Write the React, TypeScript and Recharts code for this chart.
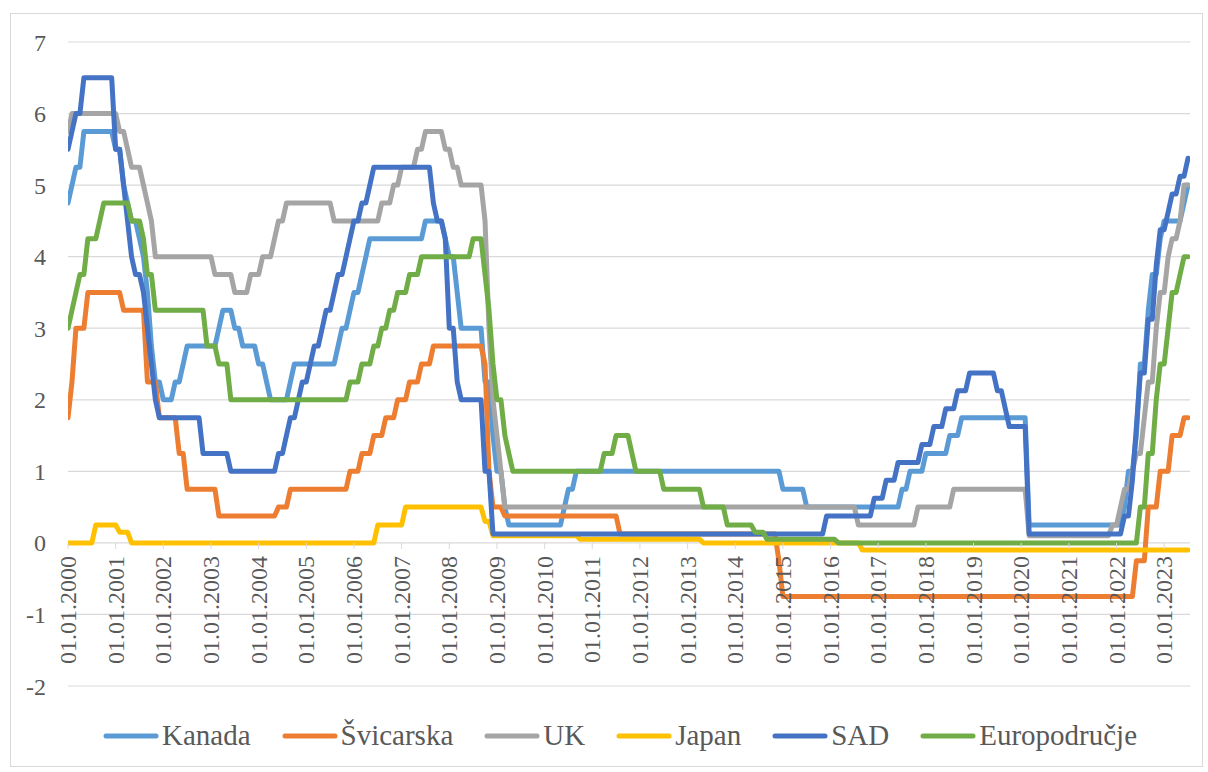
import React from 'react';
import { LineChart, Line, XAxis, YAxis, CartesianGrid, Legend } from 'recharts';

type Pt = [string, number];

// Policy rates, monthly vertices (YYYY-MM, %)
const kanada: Pt[] = [
  ['2000-01', 4.75], ['2000-02', 5.0], ['2000-03', 5.25], ['2000-04', 5.25], ['2000-05', 5.75], ['2000-12', 5.75],
  ['2001-01', 5.5], ['2001-02', 5.5], ['2001-03', 5.0], ['2001-04', 4.75], ['2001-05', 4.5], ['2001-06', 4.5],
  ['2001-07', 4.25], ['2001-08', 4.0], ['2001-09', 3.5], ['2001-10', 2.75], ['2001-11', 2.25], ['2001-12', 2.25],
  ['2002-01', 2.0], ['2002-03', 2.0], ['2002-04', 2.25], ['2002-05', 2.25], ['2002-06', 2.5], ['2002-07', 2.75],
  ['2003-02', 2.75], ['2003-03', 3.0], ['2003-04', 3.25], ['2003-06', 3.25], ['2003-07', 3.0], ['2003-08', 3.0],
  ['2003-09', 2.75], ['2003-12', 2.75], ['2004-01', 2.5], ['2004-02', 2.5], ['2004-03', 2.25], ['2004-04', 2.0],
  ['2004-08', 2.0], ['2004-09', 2.25], ['2004-10', 2.5], ['2005-08', 2.5], ['2005-09', 2.75], ['2005-10', 3.0],
  ['2005-11', 3.0], ['2005-12', 3.25], ['2006-01', 3.5], ['2006-02', 3.5], ['2006-03', 3.75], ['2006-04', 4.0],
  ['2006-05', 4.25], ['2007-06', 4.25], ['2007-07', 4.5], ['2007-11', 4.5], ['2007-12', 4.25], ['2008-01', 4.0],
  ['2008-02', 4.0], ['2008-03', 3.5], ['2008-04', 3.0], ['2008-09', 3.0], ['2008-10', 2.25], ['2008-11', 2.25],
  ['2008-12', 1.5], ['2009-01', 1.0], ['2009-02', 1.0], ['2009-03', 0.5], ['2009-04', 0.25], ['2010-05', 0.25],
  ['2010-06', 0.5], ['2010-07', 0.75], ['2010-08', 0.75], ['2010-09', 1.0], ['2014-12', 1.0], ['2015-01', 0.75],
  ['2015-06', 0.75], ['2015-07', 0.5], ['2017-06', 0.5], ['2017-07', 0.75], ['2017-08', 0.75], ['2017-09', 1.0],
  ['2017-12', 1.0], ['2018-01', 1.25], ['2018-06', 1.25], ['2018-07', 1.5], ['2018-09', 1.5], ['2018-10', 1.75],
  ['2020-02', 1.75], ['2020-03', 0.25], ['2022-02', 0.25], ['2022-03', 0.5], ['2022-04', 1.0], ['2022-05', 1.0],
  ['2022-06', 1.5], ['2022-07', 2.5], ['2022-08', 2.5], ['2022-09', 3.25], ['2022-10', 3.75], ['2022-11', 3.75],
  ['2022-12', 4.25], ['2023-01', 4.5], ['2023-05', 4.5], ['2023-06', 4.75], ['2023-07', 5.0],
];

const svicarska: Pt[] = [
  ['2000-01', 1.75], ['2000-02', 2.25], ['2000-03', 3.0], ['2000-05', 3.0], ['2000-06', 3.5], ['2001-02', 3.5],
  ['2001-03', 3.25], ['2001-08', 3.25], ['2001-09', 2.25], ['2001-11', 2.25], ['2001-12', 1.75], ['2002-04', 1.75],
  ['2002-05', 1.25], ['2002-06', 1.25], ['2002-07', 0.75], ['2003-02', 0.75], ['2003-03', 0.375], ['2004-05', 0.375],
  ['2004-06', 0.5], ['2004-08', 0.5], ['2004-09', 0.75], ['2005-11', 0.75], ['2005-12', 1.0], ['2006-02', 1.0],
  ['2006-03', 1.25], ['2006-05', 1.25], ['2006-06', 1.5], ['2006-08', 1.5], ['2006-09', 1.75], ['2006-11', 1.75],
  ['2006-12', 2.0], ['2007-02', 2.0], ['2007-03', 2.25], ['2007-05', 2.25], ['2007-06', 2.5], ['2007-08', 2.5],
  ['2007-09', 2.75], ['2008-09', 2.75], ['2008-10', 2.5], ['2008-11', 1.0], ['2008-12', 0.5], ['2009-02', 0.5],
  ['2009-03', 0.375], ['2011-07', 0.375], ['2011-08', 0.125], ['2014-11', 0.125], ['2014-12', -0.25],
  ['2015-01', -0.75], ['2022-05', -0.75], ['2022-06', -0.25], ['2022-08', -0.25], ['2022-09', 0.5],
  ['2022-11', 0.5], ['2022-12', 1.0], ['2023-02', 1.0], ['2023-03', 1.5], ['2023-05', 1.5], ['2023-06', 1.75],
  ['2023-07', 1.75],
];

const uk: Pt[] = [
  ['2000-01', 5.75], ['2000-02', 6.0], ['2001-01', 6.0], ['2001-02', 5.75], ['2001-03', 5.75], ['2001-04', 5.5],
  ['2001-05', 5.25], ['2001-07', 5.25], ['2001-08', 5.0], ['2001-09', 4.75], ['2001-10', 4.5], ['2001-11', 4.0],
  ['2003-01', 4.0], ['2003-02', 3.75], ['2003-06', 3.75], ['2003-07', 3.5], ['2003-10', 3.5], ['2003-11', 3.75],
  ['2004-01', 3.75], ['2004-02', 4.0], ['2004-04', 4.0], ['2004-05', 4.25], ['2004-06', 4.5], ['2004-07', 4.5],
  ['2004-08', 4.75], ['2005-07', 4.75], ['2005-08', 4.5], ['2006-07', 4.5], ['2006-08', 4.75], ['2006-10', 4.75],
  ['2006-11', 5.0], ['2006-12', 5.0], ['2007-01', 5.25], ['2007-04', 5.25], ['2007-05', 5.5], ['2007-06', 5.5],
  ['2007-07', 5.75], ['2007-11', 5.75], ['2007-12', 5.5], ['2008-01', 5.5], ['2008-02', 5.25], ['2008-03', 5.25],
  ['2008-04', 5.0], ['2008-09', 5.0], ['2008-10', 4.5], ['2008-11', 3.0], ['2008-12', 2.0], ['2009-01', 1.5],
  ['2009-02', 1.0], ['2009-03', 0.5], ['2016-07', 0.5], ['2016-08', 0.25], ['2017-10', 0.25], ['2017-11', 0.5],
  ['2018-07', 0.5], ['2018-08', 0.75], ['2020-02', 0.75], ['2020-03', 0.1], ['2021-11', 0.1], ['2021-12', 0.25],
  ['2022-01', 0.25], ['2022-02', 0.5], ['2022-03', 0.75], ['2022-04', 0.75], ['2022-05', 1.0], ['2022-06', 1.25],
  ['2022-07', 1.25], ['2022-08', 1.75], ['2022-09', 2.25], ['2022-10', 2.25], ['2022-11', 3.0], ['2022-12', 3.5],
  ['2023-01', 3.5], ['2023-02', 4.0], ['2023-03', 4.25], ['2023-04', 4.25], ['2023-05', 4.5], ['2023-06', 5.0],
  ['2023-07', 5.0],
];

const japan: Pt[] = [
  ['2000-01', 0], ['2000-07', 0], ['2000-08', 0.25], ['2001-01', 0.25], ['2001-02', 0.15], ['2001-04', 0.15],
  ['2001-05', 0], ['2006-06', 0], ['2006-07', 0.25], ['2007-01', 0.25], ['2007-02', 0.5], ['2008-09', 0.5],
  ['2008-10', 0.3], ['2008-11', 0.3], ['2008-12', 0.1], ['2010-09', 0.1], ['2010-10', 0.05], ['2013-04', 0.05],
  ['2013-05', 0], ['2016-08', 0], ['2016-09', -0.1], ['2023-07', -0.1],
];

const sad: Pt[] = [
  ['2000-01', 5.5], ['2000-02', 5.75], ['2000-03', 6.0], ['2000-04', 6.0], ['2000-05', 6.5], ['2000-12', 6.5],
  ['2001-01', 5.5], ['2001-02', 5.5], ['2001-03', 5.0], ['2001-04', 4.5], ['2001-05', 4.0], ['2001-06', 3.75],
  ['2001-07', 3.75], ['2001-08', 3.5], ['2001-09', 3.0], ['2001-10', 2.5], ['2001-11', 2.0], ['2001-12', 1.75],
  ['2002-10', 1.75], ['2002-11', 1.25], ['2003-05', 1.25], ['2003-06', 1.0], ['2004-05', 1.0], ['2004-06', 1.25],
  ['2004-07', 1.25], ['2004-08', 1.5], ['2004-09', 1.75], ['2004-10', 1.75], ['2004-11', 2.0], ['2004-12', 2.25],
  ['2005-01', 2.25], ['2005-02', 2.5], ['2005-03', 2.75], ['2005-04', 2.75], ['2005-05', 3.0], ['2005-06', 3.25],
  ['2005-07', 3.25], ['2005-08', 3.5], ['2005-09', 3.75], ['2005-10', 3.75], ['2005-11', 4.0], ['2005-12', 4.25],
  ['2006-01', 4.5], ['2006-02', 4.5], ['2006-03', 4.75], ['2006-04', 4.75], ['2006-05', 5.0], ['2006-06', 5.25],
  ['2007-08', 5.25], ['2007-09', 4.75], ['2007-10', 4.5], ['2007-11', 4.5], ['2007-12', 4.25], ['2008-01', 3.0],
  ['2008-02', 3.0], ['2008-03', 2.25], ['2008-04', 2.0], ['2008-09', 2.0], ['2008-10', 1.0], ['2008-11', 1.0],
  ['2008-12', 0.125], ['2015-11', 0.125], ['2015-12', 0.375], ['2016-11', 0.375], ['2016-12', 0.625],
  ['2017-02', 0.625], ['2017-03', 0.875], ['2017-05', 0.875], ['2017-06', 1.125], ['2017-11', 1.125],
  ['2017-12', 1.375], ['2018-02', 1.375], ['2018-03', 1.625], ['2018-05', 1.625], ['2018-06', 1.875],
  ['2018-08', 1.875], ['2018-09', 2.125], ['2018-11', 2.125], ['2018-12', 2.375], ['2019-06', 2.375],
  ['2019-07', 2.125], ['2019-08', 2.125], ['2019-09', 1.875], ['2019-10', 1.625], ['2020-02', 1.625],
  ['2020-03', 0.125], ['2022-02', 0.125], ['2022-03', 0.375], ['2022-04', 0.375], ['2022-05', 0.875],
  ['2022-06', 1.625], ['2022-07', 2.375], ['2022-08', 2.375], ['2022-09', 3.125], ['2022-10', 3.125],
  ['2022-11', 3.875], ['2022-12', 4.375], ['2023-01', 4.375], ['2023-02', 4.625], ['2023-03', 4.875],
  ['2023-04', 4.875], ['2023-05', 5.125], ['2023-06', 5.125], ['2023-07', 5.375],
];

const europodrucje: Pt[] = [
  ['2000-01', 3.0], ['2000-02', 3.25], ['2000-03', 3.5], ['2000-04', 3.75], ['2000-05', 3.75], ['2000-06', 4.25],
  ['2000-08', 4.25], ['2000-09', 4.5], ['2000-10', 4.75], ['2001-04', 4.75], ['2001-05', 4.5], ['2001-07', 4.5],
  ['2001-08', 4.25], ['2001-09', 3.75], ['2001-10', 3.75], ['2001-11', 3.25], ['2002-11', 3.25], ['2002-12', 2.75],
  ['2003-02', 2.75], ['2003-03', 2.5], ['2003-05', 2.5], ['2003-06', 2.0], ['2005-11', 2.0], ['2005-12', 2.25],
  ['2006-02', 2.25], ['2006-03', 2.5], ['2006-05', 2.5], ['2006-06', 2.75], ['2006-07', 2.75], ['2006-08', 3.0],
  ['2006-09', 3.0], ['2006-10', 3.25], ['2006-11', 3.25], ['2006-12', 3.5], ['2007-02', 3.5], ['2007-03', 3.75],
  ['2007-05', 3.75], ['2007-06', 4.0], ['2008-06', 4.0], ['2008-07', 4.25], ['2008-09', 4.25], ['2008-10', 3.75],
  ['2008-11', 3.25], ['2008-12', 2.5], ['2009-01', 2.0], ['2009-02', 2.0], ['2009-03', 1.5], ['2009-04', 1.25],
  ['2009-05', 1.0], ['2011-03', 1.0], ['2011-04', 1.25], ['2011-06', 1.25], ['2011-07', 1.5], ['2011-10', 1.5],
  ['2011-11', 1.25], ['2011-12', 1.0], ['2012-06', 1.0], ['2012-07', 0.75], ['2013-04', 0.75], ['2013-05', 0.5],
  ['2013-10', 0.5], ['2013-11', 0.25], ['2014-05', 0.25], ['2014-06', 0.15], ['2014-08', 0.15], ['2014-09', 0.05],
  ['2016-02', 0.05], ['2016-03', 0], ['2022-06', 0], ['2022-07', 0.5], ['2022-08', 0.5], ['2022-09', 1.25],
  ['2022-10', 1.25], ['2022-11', 2.0], ['2022-12', 2.5], ['2023-01', 2.5], ['2023-02', 3.0], ['2023-03', 3.5],
  ['2023-04', 3.5], ['2023-05', 3.75], ['2023-06', 4.0], ['2023-07', 4.0],
];

const seriesNames = ['Kanada', 'Švicarska', 'UK', 'Japan', 'SAD', 'Europodručje'];
const seriesColors = ['#5B9BD5', '#ED7D31', '#A5A5A5', '#FFC000', '#4472C4', '#70AD47'];
const seriesPoints = [kanada, svicarska, uk, japan, sad, europodrucje];

const yTicks = [-2, -1, 0, 1, 2, 3, 4, 5, 6, 7];
const tickYears = [2000, 2001, 2002, 2003, 2004, 2005, 2006, 2007, 2008, 2009, 2010, 2011,
  2012, 2013, 2014, 2015, 2016, 2017, 2018, 2019, 2020, 2021, 2022, 2023];

const START_YEAR = 2000;
const Y_MIN = -2;
const Y_MAX = 7;
const X_MAX = 282.5;

const W = 1208;
const H = 772;
const MARGIN = { top: 42, right: 18, left: 10, bottom: 56 };
const X_AXIS_H = 30;
const PLOT_TOP = MARGIN.top;
const PLOT_H = H - MARGIN.top - MARGIN.bottom - X_AXIS_H;

const FONT = '"Liberation Serif", "Times New Roman", serif';
const TEXT = '#595959';
const GRID = '#d9d9d9';

const toIndex = (s: string) => {
  const [y, m] = s.split('-').map(Number);
  return (y - START_YEAR) * 12 + (m - 1);
};

const series = seriesNames.map((name, i) => ({
  name,
  color: seriesColors[i],
  data: seriesPoints[i].map(([d, v]) => ({ x: toIndex(d), y: v })),
}));

const XTick = (props: any) => {
  const { x, payload } = props;
  const zeroY = PLOT_TOP + (PLOT_H * (Y_MAX - 0)) / (Y_MAX - Y_MIN);
  const year = START_YEAR + Math.round(payload.value / 12);
  return (
    <g>
      <line x1={x} x2={x} y1={zeroY} y2={zeroY + 6} stroke={GRID} strokeWidth={1} />
      <text
        transform={`translate(${x + 8},${zeroY + 13}) rotate(-90)`}
        textAnchor="end"
        fontFamily={FONT}
        fontSize={24}
        fill={TEXT}
      >
        {`01.01.${year}`}
      </text>
    </g>
  );
};

const LegendContent = () => (
  <div
    style={{
      display: 'flex',
      justifyContent: 'center',
      alignItems: 'center',
      paddingLeft: 32,
      fontFamily: FONT,
      fontSize: 29,
      color: TEXT,
      whiteSpace: 'nowrap',
    }}
  >
    {series.map((s, i) => (
      <div key={s.name} style={{ display: 'flex', alignItems: 'center', marginLeft: i === 0 ? 0 : 31 }}>
        <svg width={56} height={10} style={{ marginRight: 3 }}>
          <line x1={3} y1={5} x2={53} y2={5} stroke={s.color} strokeWidth={5} strokeLinecap="round" />
        </svg>
        <span>{s.name}</span>
      </div>
    ))}
  </div>
);

export default function App() {
  return (
    <div style={{ position: 'absolute', left: 0, top: 0, width: W, height: H, background: '#fff' }}>
      <div
        style={{
          position: 'absolute',
          left: 10,
          top: 13,
          width: 1193,
          height: 754,
          border: `1.5px solid ${GRID}`,
          boxSizing: 'border-box',
        }}
      />
      <div style={{ position: 'absolute', left: 0, top: 0 }}>
        <LineChart width={W} height={H} margin={MARGIN}>
          <CartesianGrid horizontal vertical={false} stroke={GRID} strokeWidth={1.2} />
          <XAxis
            dataKey="x"
            type="number"
            domain={[0, X_MAX]}
            ticks={tickYears.map((y) => (y - START_YEAR) * 12)}
            allowDataOverflow
            axisLine={false}
            tickLine={false}
            height={X_AXIS_H}
            tick={<XTick />}
            interval={0}
          />
          <YAxis
            type="number"
            domain={[Y_MIN, Y_MAX]}
            ticks={yTicks}
            axisLine={false}
            tickLine={false}
            width={58}
            tickMargin={16}
            tick={{ fill: TEXT, fontSize: 24, fontFamily: FONT }}
            interval={0}
          />
          <Legend
            layout="horizontal"
            verticalAlign="middle"
            align="center"
            content={<LegendContent />}
            wrapperStyle={{ position: 'absolute', left: 0, top: 719, width: W, height: 42 }}
          />
          {series.map((s) => (
            <Line
              key={s.name}
              data={s.data}
              dataKey="y"
              name={s.name}
              type="linear"
              stroke={s.color}
              strokeWidth={5}
              strokeLinejoin="round"
              strokeLinecap="round"
              dot={false}
              activeDot={false}
              isAnimationActive={false}
            />
          ))}
        </LineChart>
      </div>
    </div>
  );
}
